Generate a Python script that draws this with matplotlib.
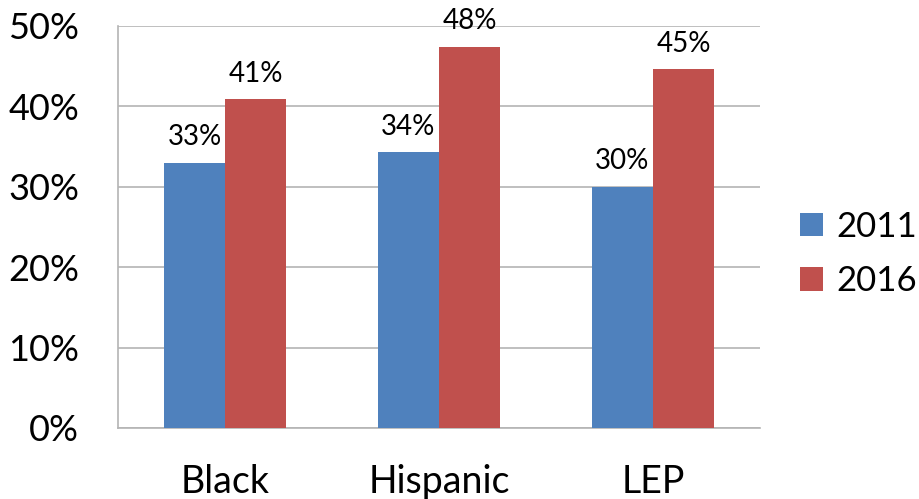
import numpy as np
import matplotlib.pyplot as plt

categories = ["Black", "Hispanic", "LEP"]
years = ["2011", "2016"]
values_2011 = [33.0, 34.3, 30.0]
values_2016 = [40.9, 47.4, 44.6]
labels_2011 = ["33%", "34%", "30%"]
labels_2016 = ["41%", "48%", "45%"]
yticks = [0, 10, 20, 30, 40, 50]

plt.rcParams['font.family'] = ['Lato', 'DejaVu Sans']

fig = plt.figure(figsize=(9.19, 4.99), dpi=100)
ax = fig.add_axes([0.1284, 0.1423, 0.6986, 0.8056])

x = np.arange(len(categories))
w = 0.285
b1 = ax.bar(x - w / 2, values_2011, w, color='#4F81BD', label=years[0], zorder=3)
b2 = ax.bar(x + w / 2, values_2016, w, color='#C0504D', label=years[1], zorder=3)

for bars, labs in [(b1, labels_2011), (b2, labels_2016)]:
    for r, lab in zip(bars, labs):
        ax.annotate(lab, (r.get_x() + r.get_width() / 2, r.get_height()),
                    xytext=(0, 9), textcoords='offset points',
                    ha='center', va='bottom', fontsize=20)

ax.set_xlim(-0.5, 2.5)
ax.set_ylim(0, 50)
ax.set_yticks(yticks)
ax.set_yticklabels([f"{t}%" for t in yticks], fontsize=26)
ax.set_xticks(x)
ax.set_xticklabels(categories, fontsize=27)
ax.tick_params(length=0)
ax.tick_params(axis='y', pad=28)
ax.tick_params(axis='x', pad=26)
ax.grid(axis='y', color='#b4b4b4', linewidth=1.2, zorder=0)
for s in ['top', 'right']:
    ax.spines[s].set_visible(False)
for s in ['left', 'bottom']:
    ax.spines[s].set_color('#b4b4b4')
    ax.spines[s].set_linewidth(1.2)

ax.legend(loc='center left', bbox_to_anchor=(1.062, 0.433), frameon=False,
          bbox_transform=ax.transAxes, fontsize=25, borderaxespad=0, borderpad=0,
          handlelength=0.66, handleheight=0.66, handletextpad=0.4,
          labelspacing=0.65)

fig.savefig("out.png", dpi=100)
